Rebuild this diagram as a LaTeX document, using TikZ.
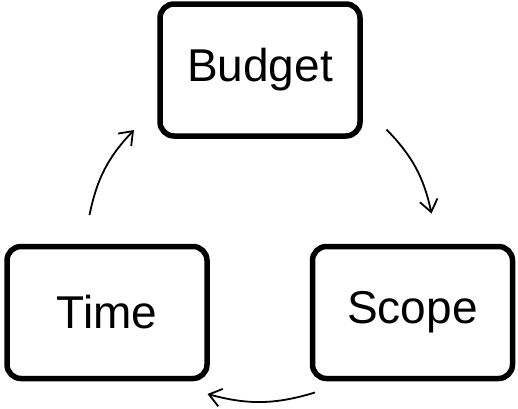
\documentclass[tikz,border=0pt]{standalone}
\usepackage{fontspec}
\setmainfont{Liberation Sans}
\usetikzlibrary{arrows.meta}
\begin{document}
\begin{tikzpicture}[x=1pt,y=-1pt,
  box/.style={draw=black,line width=5.5pt,rounded corners=14pt,
    minimum width=200pt,minimum height=132pt,inner sep=0pt,
    font=\fontsize{46}{55}\selectfont},
  cyc/.style={line width=1.8pt,-{Straight Barb[length=12pt,width=18pt,line width=1.8pt]}}]
\useasboundingbox (0,0) rectangle (518,408);
\node[box] (budget) at (260,70) {Budget};
\node[box] (time) at (107,312.5) {Time};
\node[box] (scope) at (412.5,312.5) {Scope};
\coordinate (a1s) at (89.5,215);
\coordinate (a1e) at (134,130);
\coordinate (a2s) at (386.5,129.5);
\coordinate (a2e) at (431.5,213.5);
\coordinate (a3s) at (315,392.5);
\coordinate (a3e) at (207.5,394);
\draw[cyc] (a1s) to[bend left=16] (a1e);
\draw[cyc] (a2s) to[bend left=16] (a2e);
\draw[cyc] (a3s) to[bend left=16] (a3e);
\end{tikzpicture}
\end{document}
